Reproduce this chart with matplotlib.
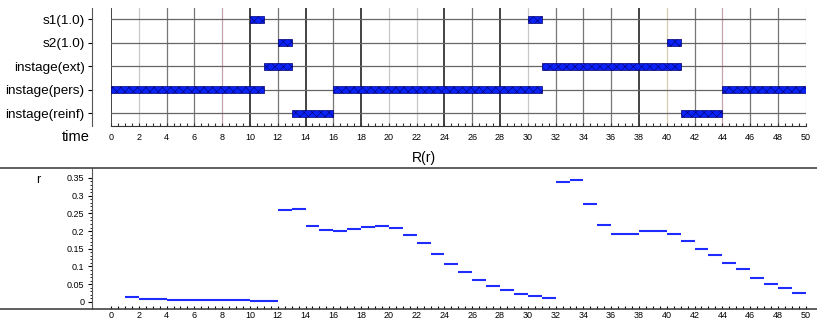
import matplotlib
matplotlib.use("Agg")
import matplotlib.pyplot as plt
from matplotlib.lines import Line2D
import numpy as np

plt.rcParams['font.family'] = ['Liberation Sans', 'DejaVu Sans']
plt.rcParams['hatch.linewidth'] = 0.4

# top panel: state intervals (start, end)
rows = ['s1(1.0)', 's2(1.0)', 'instage(ext)', 'instage(pers)', 'instage(reinf)']
s1_spans = [(10, 11), (30, 31)]
s2_spans = [(12, 13), (40, 41)]
ext_spans = [(11, 13), (31, 41)]
pers_spans = [(0, 11), (16, 31), (44, 50)]
reinf_spans = [(13, 16), (41, 44)]
time_ticks = list(range(0, 51, 2))

# bottom panel: R(r), one step per unit of time
r_start = list(range(1, 50))
r_values = [0.013, 0.0095, 0.0075, 0.005, 0.005, 0.005, 0.005, 0.005, 0.005,
            0.002, 0.002, 0.259, 0.262, 0.215, 0.204, 0.201, 0.205, 0.2125,
            0.215, 0.208, 0.189, 0.165, 0.135, 0.107, 0.085, 0.063, 0.045,
            0.034, 0.023, 0.017, 0.012, 0.339, 0.345, 0.276, 0.218, 0.193,
            0.192, 0.200, 0.201, 0.192, 0.172, 0.150, 0.132, 0.110, 0.092,
            0.068, 0.050, 0.038, 0.026]
r_ticks = [0, 0.05, 0.1, 0.15, 0.2, 0.25, 0.3, 0.35]
r_ticklabels = ['0', '0.05', '0.1', '0.15', '0.2', '0.25', '0.3', '0.35']

W, H = 817, 322
fig = plt.figure(figsize=(W / 100, H / 100), dpi=100)

x0, x1 = 111, 805.7
ax1 = fig.add_axes([x0 / W, 1 - 126 / H, (x1 - x0) / W, 118 / H])
ax2 = fig.add_axes([x0 / W, 1 - 309 / H, (x1 - x0) / W, 141 / H])

# vertical grid shades for the top panel
dark = {0, 10, 14, 18, 24, 28, 38}
mid = {4, 6, 12, 16, 26, 32, 34, 36, 42, 46, 48}
pink = {8, 44}
for t in time_ticks:
    if t in dark:
        c, lw = '#111111', 1.1
    elif t in mid:
        c, lw = '#777777', 0.9
    elif t in pink:
        c, lw = '#c8a0a8', 0.9
    elif t == 40:
        c, lw = '#d8ccb0', 0.9
    else:
        c, lw = '#c8c8c8', 0.9
    ax1.axvline(t, color=c, lw=lw, zorder=1)

all_spans = [s1_spans, s2_spans, ext_spans, pers_spans, reinf_spans]
ypos = [5, 4, 3, 2, 1]
for y, spans in zip(ypos, all_spans):
    ax1.axhline(y, color='#666666', lw=0.9, zorder=1)
    ax1.broken_barh([(a, b - a) for a, b in spans], (y - 0.15, 0.3),
                    facecolors='#0a22f5', edgecolors='#000070',
                    hatch='xxxx', linewidth=0.5, zorder=3)

ax1.set_xlim(0, 50)
ax1.set_ylim(0.45, 5.47)
ax1.set_yticks(ypos)
ax1.set_yticklabels(rows)
ax1.set_xticks(time_ticks)
ax1.set_xticklabels([str(t) for t in time_ticks])
ax1.set_xticks(np.arange(0, 50.01, 0.5), minor=True)
ax1.tick_params(axis='x', which='both', direction='in', length=2, width=0.8,
                pad=5, colors='#333333', labelcolor='black', labelsize=6.5)
ax1.tick_params(axis='y', direction='out', length=3, width=0.8, pad=2,
                labelsize=9.7)
ax1.spines['top'].set_visible(False)
ax1.spines['right'].set_visible(False)
ax1.spines['left'].set_position(('outward', 14))
ax1.spines['left'].set_color('#555555')
ax1.spines['bottom'].set_color('#333333')
ax1.text(90 / W, 1 - 137 / H, 'time', transform=fig.transFigure,
         ha='right', va='center', fontsize=10.5)

# bottom panel
ax2.hlines(r_values, r_start, [s + 1 for s in r_start], colors='#1f2cff', lw=1.5)
ax2.set_xlim(0, 50)
ax2.set_ylim(-0.02, 0.378)
ax2.set_xticks(time_ticks)
ax2.set_xticklabels([str(t) for t in time_ticks])
ax2.set_xticks(np.arange(0, 50.01, 0.5), minor=True)
ax2.set_yticks(r_ticks)
ax2.set_yticklabels(r_ticklabels)
ax2.set_yticks(np.arange(0, 0.36, 0.01), minor=True)
ax2.tick_params(axis='x', which='both', direction='in', length=2, width=0.8,
                pad=1.5, labelsize=6.5)
ax2.tick_params(axis='y', which='major', direction='out', length=3, width=0.8,
                pad=2, labelsize=6.5)
ax2.tick_params(axis='y', which='minor', direction='out', length=1.5, width=0.6)
for s in ['top', 'right', 'bottom']:
    ax2.spines[s].set_visible(False)
ax2.spines['left'].set_position(('outward', 14))
ax2.spines['left'].set_color('#555555')

fig.add_artist(Line2D([0, 1], [1 - 168 / H, 1 - 168 / H], color='#444444', lw=1.2))
fig.add_artist(Line2D([0, 1], [1 - 309 / H, 1 - 309 / H], color='#444444', lw=1.2))
fig.text(424 / W, 1 - 158 / H, 'R(r)', ha='center', va='center', fontsize=10)
fig.text(38 / W, 1 - 180 / H, 'r', ha='center', va='center', fontsize=9)

fig.savefig('out.png', dpi=100)
